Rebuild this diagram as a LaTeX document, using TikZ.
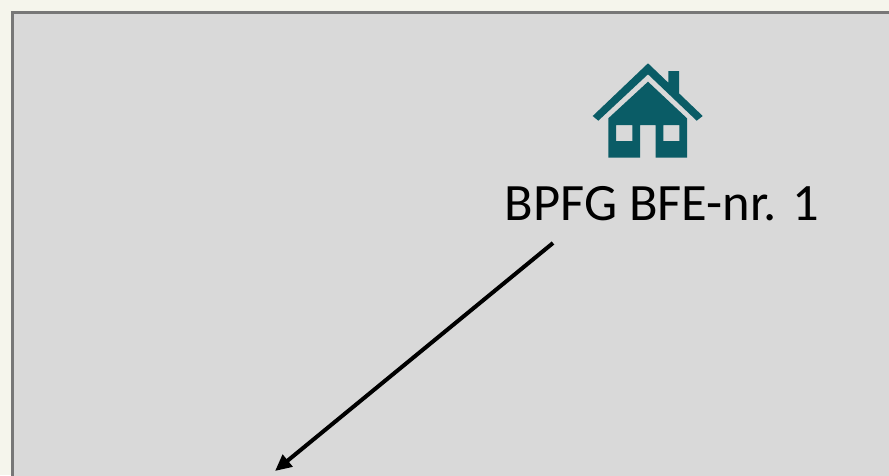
\documentclass[tikz,border=0pt]{standalone}
\usepackage{fontspec}
\setmainfont{Carlito}
\usetikzlibrary{arrows.meta}
\definecolor{pagebg}{HTML}{F5F5EC}
\definecolor{panelfill}{HTML}{D9D9D9}
\definecolor{panelline}{HTML}{777777}
\definecolor{housecol}{HTML}{0A5C66}
\tikzset{
  panel/.style={fill=panelfill,draw=panelline,line width=3pt},
  housepart/.style={fill=housecol,draw=none,even odd rule},
  linktip/.style={draw=black,line width=4pt,-{Triangle[length=16.5pt,width=15pt]}},
  caption/.style={inner sep=0pt,anchor=base,font=\fontsize{52.5}{60}\selectfont,text=black}
}
\begin{document}
\begin{tikzpicture}[x=1pt,y=-1pt]
\useasboundingbox (0,0) rectangle (889,475);
\fill[pagebg] (0,0) rectangle (889,475);
\begin{scope}
\clip (0,0) rectangle (889,475);
\draw[panel] (12.5,12.5) rectangle (900,500);
\end{scope}
% roof and chimney
\fill[housepart] (648,63.3) -- (668.3,82.7) -- (668.3,71) -- (679,71) -- (679,93.3) -- (702.7,116) -- (696.7,120.7) -- (648,74.3) -- (598.3,120.7) -- (592.7,116) -- cycle;
% body
\fill[housepart] (648,81.7) -- (687,118.3) -- (687,157.7) -- (655.7,157.7) -- (655.7,125) -- (640,125) -- (640,157.7) -- (608.3,157.7) -- (608.3,118.3) -- cycle
  (616,125) rectangle (632.3,141)
  (663.3,125) rectangle (679.3,141);
\node[caption] (label) at (662,220) {BPFG BFE-nr. 1};
\coordinate (from) at (553,243);
\coordinate (to) at (275,471);
\draw[linktip] (from) -- (to);
\end{tikzpicture}
\end{document}
